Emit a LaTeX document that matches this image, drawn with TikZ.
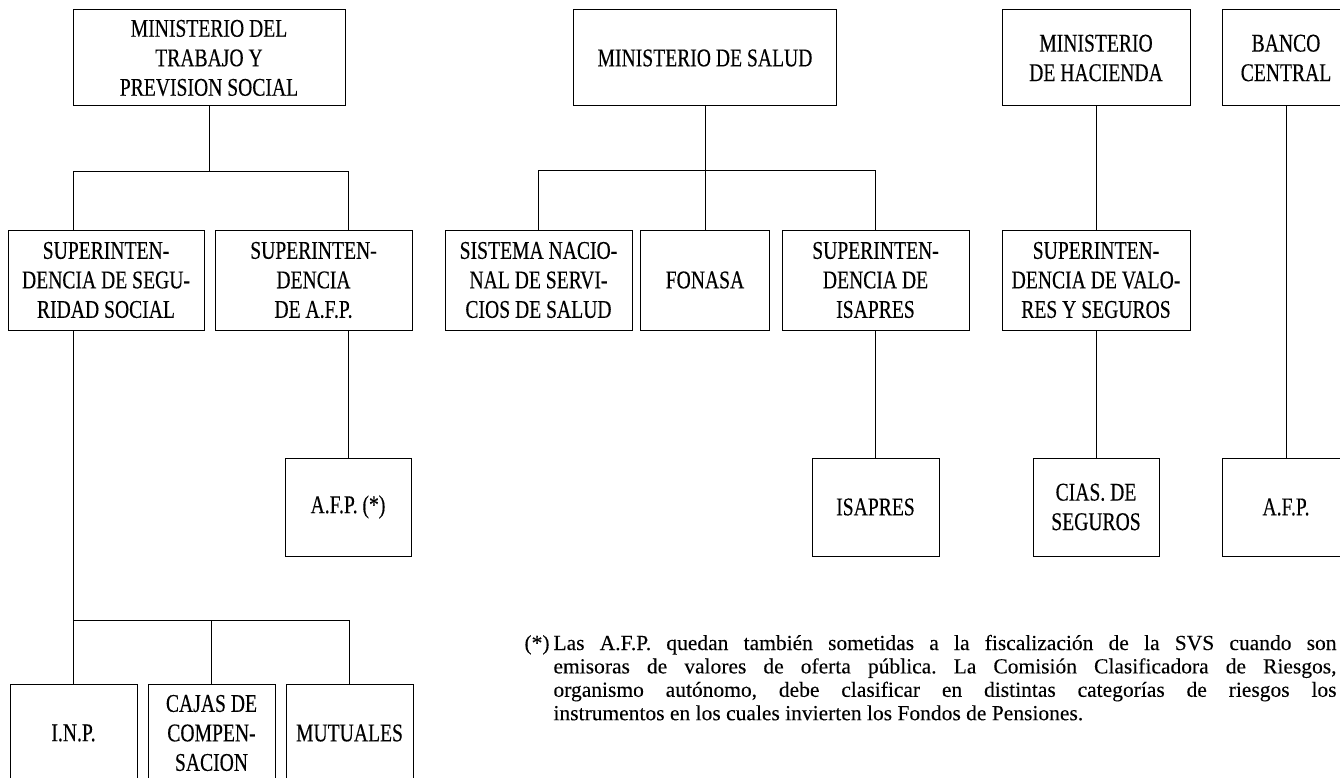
\documentclass[tikz,border=0pt]{standalone}
\usepackage{fontspec}
\setmainfont{Liberation Serif}
\newfontfamily\boxfont[FakeStretch=0.77, FakeBold=0.25]{Liberation Serif}
\newfontfamily\notefont[FakeBold=0.15]{Liberation Serif}
\frenchspacing

\begin{document}
\begin{tikzpicture}[x=1pt, y=-1pt, line width=1pt,
    unit/.style={draw, align=center, inner sep=0pt, minimum height=98,
      font=\boxfont\fontsize{25.5}{29.5}\selectfont},
    toprow/.style={unit, minimum height=96},
    midrow/.style={unit, minimum height=100}]
      \useasboundingbox (0,0) rectangle (1340,778);
      \clip (0,0) rectangle (1340,778);

      % Draw the ministries
      \node[toprow, minimum width=272] (mtps) at (209,58) {MINISTERIO DEL\\TRABAJO Y\\PREVISION SOCIAL};
      \node[toprow, minimum width=263] (msal) at (705,58) {MINISTERIO DE SALUD};
      \node[toprow, minimum width=188] (mhac) at (1096,58) {MINISTERIO\\DE HACIENDA};
      \node[toprow, minimum width=128] (banco) at (1286,58) {BANCO\\CENTRAL};

      % Draw the second row
      \node[midrow, minimum width=196] (sss) at (106,280) {SUPERINTEN-\\DENCIA DE SEGU-\\RIDAD SOCIAL};
      \node[midrow, minimum width=197] (safp) at (313.5,280) {SUPERINTEN-\\DENCIA\\DE A.F.P.};
      \node[midrow, minimum width=187] (snss) at (538.5,280) {SISTEMA NACIO-\\NAL DE SERVI-\\CIOS DE SALUD};
      \node[midrow, minimum width=129] (fonasa) at (705,280) {FONASA};
      \node[midrow, minimum width=187] (sisa) at (875.5,280) {SUPERINTEN-\\DENCIA DE\\ISAPRES};
      \node[midrow, minimum width=188] (svs) at (1096,280) {SUPERINTEN-\\DENCIA DE VALO-\\RES Y SEGUROS};

      % Draw the supervised bodies
      \node[unit, minimum width=126] (afpx) at (348,507) {A.F.P. (*)};
      \node[unit, minimum width=127] (isapres) at (875.5,507) {ISAPRES};
      \node[unit, minimum width=126] (cias) at (1096,507) {CIAS. DE\\SEGUROS};
      \node[unit, minimum width=128] (afp) at (1286,507) {A.F.P.};

      % Draw the bottom row
      \node[unit, minimum width=127] (inp) at (73.5,733) {I.N.P.};
      \node[unit, minimum width=127] (cajas) at (211.5,733) {CAJAS DE\\COMPEN-\\SACION};
      \node[unit, minimum width=127] (mutu) at (349.5,733) {MUTUALES};

      % Draw the connectors
      \coordinate (t1) at (73,172);
      \coordinate (t2) at (348,172);
      \draw (mtps.south) -- (mtps.south |- t1);
      \draw (sss.north -| t1) -- (t1) -- (t2) -- (safp.north -| t2);
      \draw (safp.south -| afpx) -- (afpx.north);

      \coordinate (t3) at (73.5,620);
      \draw (sss.south -| inp) -- (inp.north);
      \draw (t3) -- (t3 -| mutu.north) -- (mutu.north);
      \draw (cajas.north) -- (cajas.north |- t3);

      \coordinate (t4) at (538.5,171);
      \draw (msal.south) -- (fonasa.north);
      \draw (snss.north) -- (t4) -- (t4 -| sisa.north) -- (sisa.north);
      \draw (sisa.south) -- (isapres.north);

      \draw (mhac.south) -- (svs.north);
      \draw (svs.south) -- (cias.north);
      \draw (banco.south) -- (afp.north);

      % Draw the note
      \node[anchor=base west, inner sep=0pt, font=\notefont\fontsize{21.5}{23.4}\selectfont] (star) at (524,650) {(*)};
      \node[anchor=base west, inner sep=0pt, text width=783, align=justify,
        font=\notefont\fontsize{21.5}{23.4}\selectfont] (note) at (553,650)
        {Las A.F.P. quedan también sometidas a la fiscalización de la SVS cuando son\linebreak
         emisoras de valores de oferta pública. La Comisión Clasificadora de Riesgos,\linebreak
         organismo autónomo, debe clasificar en distintas categorías de riesgos los\linebreak
         instrumentos en los cuales invierten los Fondos de Pensiones.};
    \end{tikzpicture}
\end{document}
